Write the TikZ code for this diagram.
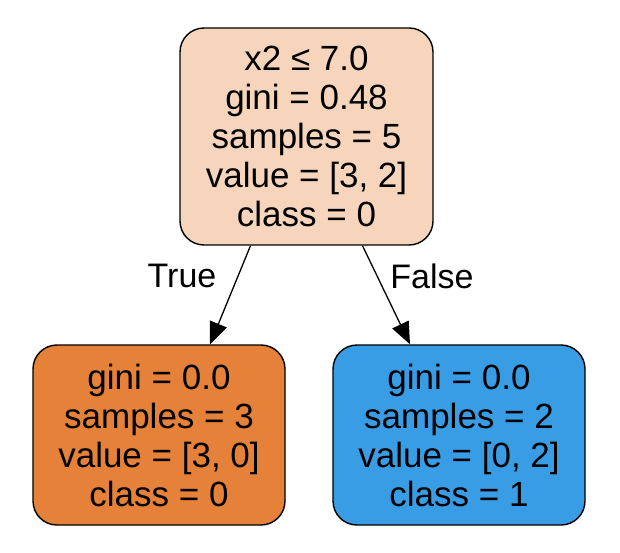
\documentclass[tikz,border=0pt]{standalone}
\usepackage{fontspec}
\setmainfont{Liberation Sans}
\usetikzlibrary{arrows.meta,calc}
\definecolor{rootc}{HTML}{F6D5BC}
\definecolor{leftc}{HTML}{E58139}
\definecolor{rightc}{HTML}{399DE5}
\tikzset{
  box/.style={draw=black,line width=1.4pt,rounded corners=24pt,align=center,
    font=\fontsize{35}{39}\selectfont,inner sep=0pt},
  edge/.style={line width=1.3pt,-{Triangle[length=22pt,width=18pt]}},
  elabel/.style={font=\fontsize{34}{38}\selectfont}
}
\begin{document}
\begin{tikzpicture}[x=1pt,y=1pt]
\useasboundingbox (0,0) rectangle (620,552);
\node[box,fill=rootc,minimum width=253pt,minimum height=217pt] (root) at (306.5,415.5)
  {x2 ≤ 7.0\\gini = 0.48\\samples = 5\\value = [3, 2]\\class = 0};
\node[box,fill=leftc,minimum width=252pt,minimum height=180pt] (left) at (159,117)
  {gini = 0.0\\samples = 3\\value = [3, 0]\\class = 0};
\node[box,fill=rightc,minimum width=252pt,minimum height=180pt] (right) at (459,117)
  {gini = 0.0\\samples = 2\\value = [0, 2]\\class = 1};
\coordinate (r1) at ($(root.south)+(-56,0)$);
\coordinate (r2) at ($(root.south)+(56,0)$);
\coordinate (l1) at ($(left.north)+(51,0)$);
\coordinate (l2) at ($(right.north)+(-49,0)$);
\draw[edge] (r1) -- (l1);
\draw[edge] (r2) -- (l2);
\node[elabel] (t) at (182,276) {True};
\node[elabel] (f) at (432,276) {False};
\end{tikzpicture}
\end{document}
